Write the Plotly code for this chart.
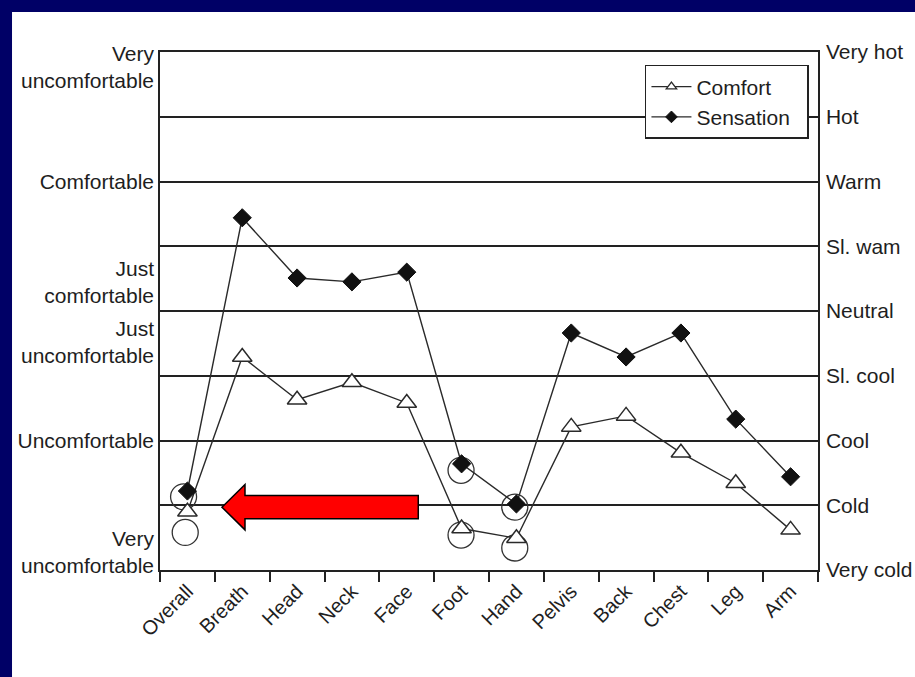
import plotly.graph_objects as go

categories = ["Overall", "Breath", "Head", "Neck", "Face", "Foot", "Hand",
              "Pelvis", "Back", "Chest", "Leg", "Arm"]
comfort = [0.90, 3.29, 2.63, 2.90, 2.58, 0.64, 0.49, 2.21, 2.38, 1.81, 1.34, 0.62]
sensation = [1.22, 5.44, 4.51, 4.45, 4.60, 1.64, 1.02, 3.66, 3.29, 3.66, 2.33, 1.44]

sensation_labels = ["Very cold", "Cold", "Cool", "Sl. cool", "Neutral",
                    "Sl. wam", "Warm", "Hot", "Very hot"]
sensation_vals = [0, 1, 2, 3, 4, 5, 6, 7, 8]

comfort_labels = ["Very<br>uncomfortable", "Comfortable", "Just<br>comfortable",
                  "Just<br>uncomfortable", "Uncomfortable", "Very<br>uncomfortable"]
comfort_vals = [7.77, 6.0, 4.45, 3.52, 2.0, 0.28]

# highlighted points (hand-drawn circles)
circle_x = [-0.07, -0.04, 4.99, 4.99, 5.97, 5.97]
circle_y = [1.13, 0.58, 1.54, 0.54, 0.97, 0.34]

xs = list(range(len(categories)))
boundaries = [i - 0.5 for i in range(len(categories) + 1)]

FONT = "Liberation Sans, Arial, sans-serif"
TXT = "#1e1e1e"
LINE = "#2a2a2a"

fig = go.Figure()
fig.add_trace(go.Scatter(
    x=circle_x, y=circle_y, mode="markers", showlegend=False,
    marker=dict(symbol="circle-open", size=26, color="#333333",
                line=dict(color="#333333", width=1.3)),
    hoverinfo="skip", xaxis="x", yaxis="y",
))
fig.add_trace(go.Scatter(
    x=xs, y=comfort, name="Comfort", mode="lines+markers", showlegend=False,
    line=dict(color=LINE, width=1.4),
    marker=dict(symbol="triangle-up", size=17, color="white",
                line=dict(color=LINE, width=1.5)),
    xaxis="x", yaxis="y2",
))
fig.add_trace(go.Scatter(
    x=xs, y=sensation, name="Sensation", mode="lines+markers", showlegend=False,
    line=dict(color=LINE, width=1.4),
    marker=dict(symbol="diamond", size=14, color="#111111",
                line=dict(color="#111111", width=1)),
    xaxis="x", yaxis="y2",
))
# legend entries with smaller symbols, as in the original key
fig.add_trace(go.Scatter(
    x=[None], y=[None], name="Comfort\u00a0\u00a0", mode="lines+markers",
    line=dict(color=LINE, width=1.4),
    marker=dict(symbol="triangle-up", size=9, color="white",
                line=dict(color=LINE, width=1.3)),
    xaxis="x", yaxis="y2",
))
fig.add_trace(go.Scatter(
    x=[None], y=[None], name="Sensation\u00a0\u00a0", mode="lines+markers",
    line=dict(color=LINE, width=1.4),
    marker=dict(symbol="diamond", size=9, color="#111111",
                line=dict(color="#111111", width=1)),
    xaxis="x", yaxis="y2",
))

# red arrow pointing left along the "Cold" line
tip_x, head_x, tail_x, cy = 0.63, 1.05, 4.21, 0.97
hh, bh = 0.35, 0.18
arrow_path = (f"M {tip_x},{cy} L {head_x},{cy + hh} L {head_x},{cy + bh} "
              f"L {tail_x},{cy + bh} L {tail_x},{cy - bh} L {head_x},{cy - bh} "
              f"L {head_x},{cy - hh} Z")

fig.update_layout(
    width=915, height=677,
    margin=dict(l=160, r=97, t=52, b=107, autoexpand=False),
    paper_bgcolor="#000066",
    plot_bgcolor="white",
    font=dict(family=FONT, size=21, color=TXT),
    showlegend=True,
    legend=dict(x=0.737, y=0.975, xanchor="left", yanchor="top",
                bgcolor="white", bordercolor="#222222", borderwidth=1.5,
                font=dict(size=21, color=TXT), itemwidth=40,
                tracegroupgap=0),
    shapes=[
        dict(type="rect", xref="paper", yref="paper",
             x0=-0.2249, x1=1.2, y0=-0.25, y1=1.0772,
             fillcolor="white", line=dict(width=0), layer="below"),
        dict(type="path", xref="x", yref="y", path=arrow_path,
             fillcolor="#ff0000", line=dict(color="black", width=1.5),
             layer="above"),
    ],
    xaxis=dict(
        range=[-0.5, 11.5], tickmode="array", tickvals=xs, ticktext=categories,
        tickangle=-45, ticks="", showgrid=False, zeroline=False,
        showline=True, linecolor="#222222", linewidth=1.5, mirror=True,
        tickfont=dict(size=20, color=TXT), automargin=False,
        minor=dict(tickmode="array", tickvals=boundaries, ticks="outside",
                   ticklen=10, tickwidth=1.5, tickcolor="#222222",
                   showgrid=False),
    ),
    yaxis=dict(
        range=[0, 8], tickmode="array", tickvals=comfort_vals,
        ticktext=comfort_labels, ticks="", showgrid=False, zeroline=False,
        showline=True, linecolor="#222222", linewidth=1.5, automargin=False,
        tickfont=dict(size=21, color=TXT), ticklabelstandoff=0,
    ),
    yaxis2=dict(
        range=[0, 8], overlaying="y", side="right", tickmode="array",
        tickvals=sensation_vals, ticktext=sensation_labels, ticks="",
        showgrid=True, gridcolor="#222222", gridwidth=1.5, zeroline=False,
        showline=True, linecolor="#222222", linewidth=1.5, automargin=False,
        tickfont=dict(size=21, color=TXT), ticklabelstandoff=2,
    ),
)

fig.write_html("out.html", config={"displayModeBar": False},
               post_script="document.body.style.margin='0px';")
